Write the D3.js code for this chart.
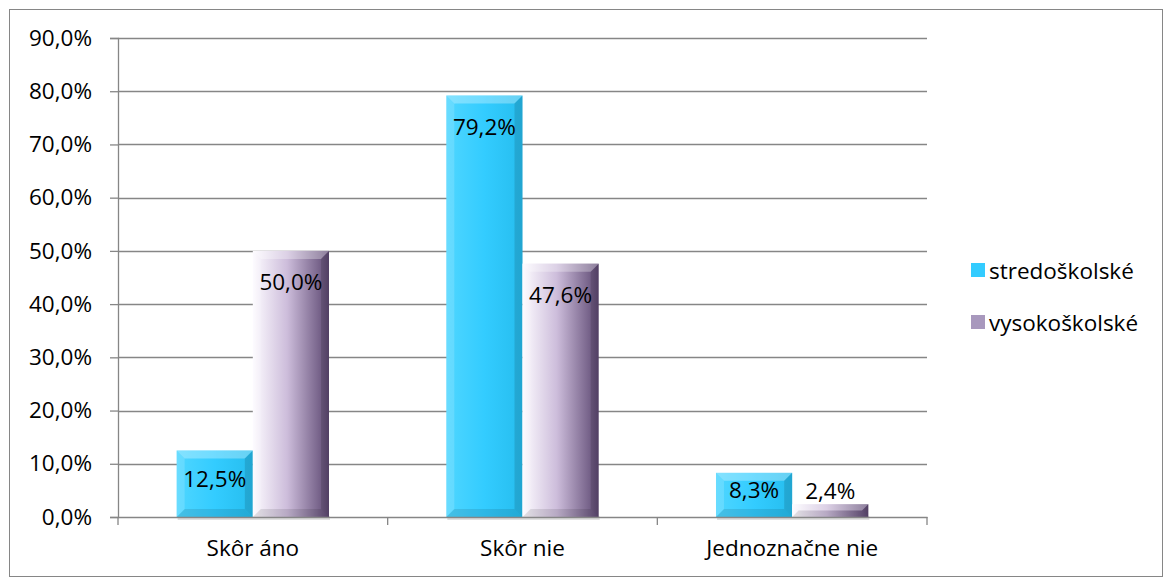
<!DOCTYPE html>
<html>
<head>
<meta charset="utf-8">
<script src="https://cdn.jsdelivr.net/npm/d3@7"></script>
<style>
  body { margin: 0; background: #fff; }
  svg { display: block; font-family: 'Open Sans', sans-serif; }
</style>
</head>
<body>
<svg id="chart" width="1169" height="579"></svg>
<script>
const categories = ['Skôr áno', 'Skôr nie', 'Jednoznačne nie'];
const seriesNames = ['stredoškolské', 'vysokoškolské'];
const stredoskolske = [12.5, 79.2, 8.3];
const vysokoskolske = [50.0, 47.6, 2.4];
const yTicks = [0, 10, 20, 30, 40, 50, 60, 70, 80, 90];

const series = [stredoskolske, vysokoskolske];
const data = categories.map((c, i) => ({
  cat: c,
  vals: series.map((s, k) => ({ key: seriesNames[k], k, v: s[i] }))
}));

const svg = d3.select('#chart');
const width = 1169, height = 579;
const margin = { top: 38, right: 242, bottom: 62, left: 118 };
const fontSize = '22.5px';
const fmt = v => d3.format('.1f')(v).replace('.', ',') + '%';

// outer frame
svg.append('rect')
  .attr('x', 9.5).attr('y', 9.5)
  .attr('width', 1153).attr('height', 567)
  .attr('fill', '#fff').attr('stroke', '#868686').attr('stroke-width', 1);

const defs = svg.append('defs');
const gradCyan = defs.append('linearGradient').attr('id', 'gCyan');
gradCyan.append('stop').attr('offset', '0%').attr('stop-color', '#4fd6ff');
gradCyan.append('stop').attr('offset', '50%').attr('stop-color', '#33ccff');
gradCyan.append('stop').attr('offset', '100%').attr('stop-color', '#26bdee');
const gradPurple = defs.append('linearGradient').attr('id', 'gPurple');
gradPurple.append('stop').attr('offset', '0%').attr('stop-color', '#fdfbff');
gradPurple.append('stop').attr('offset', '45%').attr('stop-color', '#cdbddb');
gradPurple.append('stop').attr('offset', '100%').attr('stop-color', '#5d4872');
const fills = ['url(#gCyan)', 'url(#gPurple)'];
const legendFills = ['#33ccff', '#a898bd'];

const x = d3.scaleBand()
  .domain(categories)
  .range([margin.left, width - margin.right])
  .paddingInner(0).paddingOuter(0);

const xInner = d3.scaleBand()
  .domain(d3.range(series.length))
  .range([0, x.bandwidth()])
  .paddingInner(0).paddingOuter(0.77);

const y = d3.scaleLinear()
  .domain([0, 90])
  .range([height - margin.bottom, margin.top]);

// gridlines
svg.append('g')
  .selectAll('line')
  .data(yTicks.slice(1))
  .join('line')
  .attr('x1', margin.left).attr('x2', width - margin.right)
  .attr('y1', d => Math.round(y(d)) + 0.5).attr('y2', d => Math.round(y(d)) + 0.5)
  .attr('stroke', '#868686').attr('stroke-width', 1.3);

// y axis
const yAxis = svg.append('g')
  .attr('transform', `translate(${margin.left},0)`)
  .call(d3.axisLeft(y).tickValues(yTicks).tickFormat(fmt).tickSize(8).tickPadding(18));
yAxis.select('.domain').attr('stroke', '#868686').attr('stroke-width', 1.3);
yAxis.selectAll('.tick line').attr('stroke', '#868686').attr('stroke-width', 1.3);
yAxis.selectAll('.tick text').attr('fill', '#000').style('font-size', fontSize)
  .style('font-family', "'Open Sans', sans-serif");

// bars
const groups = svg.append('g').selectAll('g')
  .data(data)
  .join('g')
  .attr('transform', d => `translate(${x(d.cat)},0)`);

const bars = groups.selectAll('g.bar')
  .data(d => d.vals)
  .join('g').attr('class', 'bar');

bars.each(function (d) {
  const g = d3.select(this);
  const x0 = xInner(d.k), w = xInner.bandwidth();
  const yt = y(d.v), yb = y(0);
  const h = yb - yt;
  const b = Math.min(8, h / 2);
  // soft shadow under bar
  g.append('rect')
    .attr('x', x0 + 1).attr('y', yb - 1).attr('width', w).attr('height', 4)
    .attr('fill', '#000').attr('opacity', 0.12);
  g.append('rect')
    .attr('x', x0).attr('y', yt).attr('width', w).attr('height', h)
    .attr('fill', fills[d.k]);
  // bevel: top lighter, right darker, bottom darker
  g.append('polygon')
    .attr('points', [[x0, yt], [x0 + w, yt], [x0 + w - b, yt + b], [x0 + b, yt + b]].join(' '))
    .attr('fill', '#fff').attr('opacity', 0.3);
  g.append('polygon')
    .attr('points', [[x0 + w, yt], [x0 + w, yb], [x0 + w - b, yb - b], [x0 + w - b, yt + b]].join(' '))
    .attr('fill', '#000').attr('opacity', 0.12);
  g.append('polygon')
    .attr('points', [[x0, yb], [x0 + w, yb], [x0 + w - b, yb - b], [x0 + b, yb - b]].join(' '))
    .attr('fill', '#000').attr('opacity', 0.1);
  g.append('polygon')
    .attr('points', [[x0, yt], [x0, yb], [x0 + b, yb - b], [x0 + b, yt + b]].join(' '))
    .attr('fill', '#fff').attr('opacity', 0.15);
});

// value labels
bars.append('text')
  .attr('x', d => xInner(d.k) + xInner.bandwidth() / 2)
  .attr('y', d => {
    const yt = y(d.v), yb = y(0);
    if (d.v < 5) return yt - 14;
    return Math.min(yt + 31, (yt + yb) / 2 - 5);
  })
  .attr('text-anchor', 'middle')
  .attr('dominant-baseline', 'central')
  .style('font-size', fontSize)
  .attr('fill', '#000')
  .text(d => fmt(d.v));

// x axis
const xAxis = svg.append('g')
  .attr('transform', `translate(0,${y(0)})`)
  .call(d3.axisBottom(x).tickSize(0).tickPadding(23));
xAxis.select('.domain').attr('stroke', '#868686').attr('stroke-width', 1.3);
xAxis.selectAll('.tick text').attr('fill', '#000').style('font-size', fontSize)
  .style('font-family', "'Open Sans', sans-serif");
svg.append('g').selectAll('line')
  .data(categories.map(c => x(c)).concat([x(categories[categories.length - 1]) + x.bandwidth()]))
  .join('line')
  .attr('x1', d => d).attr('x2', d => d)
  .attr('y1', y(0)).attr('y2', y(0) + 8)
  .attr('stroke', '#868686').attr('stroke-width', 1.3);

// legend
const legend = svg.append('g').attr('transform', 'translate(971,270)');
const li = legend.selectAll('g')
  .data(seriesNames)
  .join('g')
  .attr('transform', (d, i) => `translate(0,${i * 52})`);
li.append('rect')
  .attr('x', 0).attr('y', -7).attr('width', 14).attr('height', 14)
  .attr('fill', (d, i) => legendFills[i]);
li.append('text')
  .attr('x', 18).attr('y', 0)
  .attr('dominant-baseline', 'central')
  .style('font-size', fontSize)
  .attr('fill', '#000')
  .text(d => d);
</script>
</body>
</html>
